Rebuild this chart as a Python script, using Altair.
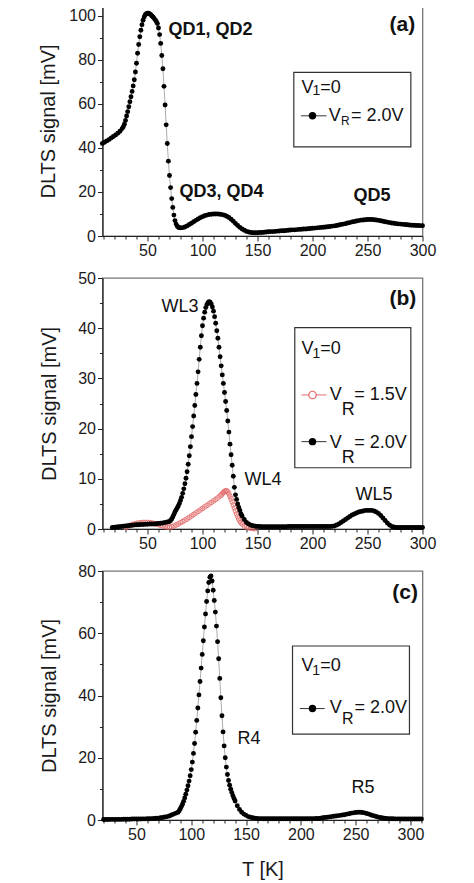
import altair as alt
import pandas as pd

FONT = "Liberation Sans"

# ---------------- Panel (a): V1=0, VR=2.0V ----------------
TA = [9, 11, 13, 15, 17, 19, 21, 23, 25, 27,
      28, 29, 30, 31, 32, 33, 34, 35, 36, 37,
      38, 39, 40, 41, 42, 43, 44, 45, 46, 47,
      48, 49, 50, 51, 52, 53, 54, 55, 56, 57,
      58, 59, 60, 61, 62, 63, 64, 65, 66, 67,
      68, 69, 70, 71, 72, 73, 74, 75, 76, 77,
      78, 79, 80, 82, 84, 86, 88, 90, 92, 94,
      96, 98, 100, 102, 104, 106, 108, 110, 112, 114,
      116, 118, 120, 122, 124, 126, 128, 130, 132, 134,
      136, 138, 140, 142, 144, 146, 148, 150, 152, 154,
      156, 158, 160, 162, 164, 166, 168, 170, 172, 174,
      176, 178, 180, 182, 184, 186, 188, 190, 192, 194,
      196, 198, 200, 202, 204, 206, 208, 210, 212, 214,
      216, 218, 220, 222, 224, 226, 228, 230, 232, 234,
      236, 238, 240, 242, 244, 246, 248, 250, 252, 254,
      256, 258, 260, 262, 264, 266, 268, 270, 272, 274,
      276, 278, 280, 282, 284, 286, 288, 290, 292, 294,
      296, 298, 300]
VA = [42.0, 42.6, 43.2, 43.8, 44.5, 45.2, 45.9, 46.7, 47.6, 48.8,
      49.6, 50.8, 52.5, 54.5, 56.5, 58.7, 61.0, 63.3, 65.7, 68.2,
      71.0, 74.5, 78.5, 83.0, 87.0, 90.5, 93.5, 96.0, 98.0, 99.5,
      100.5, 101.0, 101.2, 101.2, 100.9, 100.5, 100.0, 99.5, 98.9, 98.2,
      97.5, 96.5, 94.5, 91.5, 87.5, 82.0, 76.0, 68.0, 59.5, 50.5,
      42.0, 34.0, 27.5, 22.0, 17.0, 13.0, 9.5, 7.0, 5.4, 4.5,
      4.0, 3.8, 3.7, 3.8, 4.1, 4.6, 5.2, 5.8, 6.5, 7.1,
      7.7, 8.3, 8.8, 9.2, 9.5, 9.8, 9.9, 10.0, 10.0, 10.0,
      9.9, 9.7, 9.4, 9.0, 8.4, 7.6, 6.7, 5.7, 4.8, 3.9,
      3.2, 2.6, 2.1, 1.8, 1.6, 1.5, 1.5, 1.5, 1.6, 1.6,
      1.7, 1.8, 1.9, 2.0, 2.0, 2.1, 2.2, 2.3, 2.4, 2.4,
      2.5, 2.6, 2.7, 2.8, 2.8, 2.9, 3.0, 3.1, 3.2, 3.2,
      3.3, 3.4, 3.5, 3.6, 3.7, 3.8, 3.9, 4.0, 4.1, 4.2,
      4.3, 4.5, 4.6, 4.8, 5.0, 5.2, 5.4, 5.6, 5.9, 6.1,
      6.4, 6.6, 6.8, 7.0, 7.2, 7.3, 7.4, 7.5, 7.5, 7.5,
      7.4, 7.3, 7.1, 6.9, 6.7, 6.5, 6.3, 6.1, 5.9, 5.8,
      5.6, 5.5, 5.4, 5.3, 5.2, 5.1, 5.0, 4.9, 4.9, 4.8,
      4.8, 4.7, 4.7]

# ---------------- Panel (b): VR=2.0V (black) ----------------
TB2 = [18, 20, 22, 24, 26, 28, 30, 32, 34, 36,
       38, 40, 42, 44, 46, 48, 50, 52, 54, 56,
       58, 60, 62, 64, 66, 68, 70, 71, 72, 73,
       74, 75, 76, 77, 78, 79, 80, 81, 82, 83,
       84, 85, 86, 87, 88, 89, 90, 91, 92, 93,
       94, 95, 96, 97, 98, 99, 100, 101, 102, 103,
       104, 105, 106, 107, 108, 109, 110, 111, 112, 113,
       114, 115, 116, 117, 118, 119, 120, 121, 122, 123,
       124, 125, 126, 127, 128, 129, 130, 131, 132, 133,
       134, 135, 136, 138, 140, 142, 144, 146, 148, 150,
       152, 154, 156, 158, 160, 162, 164, 166, 168, 170,
       172, 174, 176, 178, 180, 182, 184, 186, 188, 190,
       192, 194, 196, 198, 200, 202, 204, 206, 208, 210,
       212, 214, 216, 218, 220, 222, 224, 226, 228, 230,
       232, 234, 236, 238, 240, 242, 244, 246, 248, 250,
       252, 254, 256, 258, 260, 262, 264, 266, 268, 270,
       272, 274, 276, 278, 280, 282, 284, 286, 288, 290,
       292, 294, 296, 298, 300]
VB2 = [0.3, 0.35, 0.4, 0.45, 0.5, 0.55, 0.6, 0.65, 0.7, 0.75,
       0.8, 0.85, 0.85, 0.9, 0.9, 0.95, 0.95, 1.0, 1.0, 1.0,
       1.05, 1.1, 1.15, 1.2, 1.3, 1.4, 1.5, 1.7, 2.0, 2.4,
       2.9, 3.4, 3.8, 4.2, 4.6, 5.1, 5.7, 6.3, 7.1, 8.0,
       9.0, 10.1, 11.4, 12.9, 14.6, 16.4, 18.4, 20.4, 22.5, 24.6,
       26.8, 29.0, 31.3, 33.8, 36.2, 38.5, 40.5, 42.0, 43.2, 44.1,
       44.7, 45.1, 45.3, 45.2, 44.8, 44.2, 43.4, 42.3, 41.0, 39.5,
       38.0, 36.2, 34.3, 32.5, 30.7, 29.0, 27.2, 25.4, 23.6, 21.5,
       19.3, 16.9, 14.8, 12.7, 10.5, 8.3, 6.8, 5.9, 5.0, 4.3,
       3.7, 3.0, 2.6, 1.9, 1.3, 1.0, 0.75, 0.65, 0.55, 0.5,
       0.5, 0.45, 0.45, 0.45, 0.45, 0.45, 0.45, 0.45, 0.45, 0.45,
       0.45, 0.45, 0.45, 0.5, 0.5, 0.5, 0.5, 0.5, 0.5, 0.5,
       0.5, 0.5, 0.5, 0.5, 0.5, 0.5, 0.5, 0.5, 0.5, 0.5,
       0.5, 0.5, 0.5, 0.55, 0.6, 0.8, 1.0, 1.3, 1.6, 1.9,
       2.2, 2.5, 2.8, 3.0, 3.2, 3.4, 3.5, 3.6, 3.7, 3.7,
       3.7, 3.7, 3.6, 3.4, 3.1, 2.7, 2.2, 1.7, 1.2, 0.8,
       0.5, 0.4, 0.3, 0.3, 0.3, 0.3, 0.3, 0.3, 0.3, 0.3,
       0.3, 0.3, 0.3, 0.3, 0.3]

# ---------------- Panel (b): VR=1.5V (red, open) ----------------
TB1 = [30, 32, 34, 36, 38, 40, 42, 44, 46, 48,
       50, 52, 54, 56, 58, 60, 62, 64, 66, 68,
       70, 72, 74, 76, 78, 80, 82, 84, 86, 88,
       90, 92, 94, 96, 98, 100, 102, 104, 106, 108,
       110, 112, 114, 116, 117, 118, 119, 120, 121, 122,
       123, 124, 125, 126, 127, 128, 129, 130, 131, 132,
       133, 134, 135, 136, 138, 140, 142, 144, 146, 148]
VB1 = [0.3, 0.5, 0.7, 0.9, 1.0, 1.1, 1.2, 1.25, 1.3, 1.3,
       1.3, 1.25, 1.2, 1.1, 1.0, 0.9, 0.75, 0.6, 0.5, 0.4,
       0.4, 0.45, 0.6, 0.8, 1.0, 1.25, 1.5, 1.75, 2.0, 2.3,
       2.6, 2.9, 3.2, 3.5, 3.8, 4.1, 4.4, 4.7, 5.0, 5.3,
       5.6, 5.9, 6.2, 6.6, 6.8, 7.0, 7.3, 7.5, 7.6, 7.6,
       7.4, 7.0, 6.5, 6.0, 5.4, 4.8, 4.2, 3.6, 3.0, 2.5,
       2.0, 1.6, 1.3, 1.0, 0.6, 0.4, 0.25, 0.15, 0.1, 0.05]

# ---------------- Panel (c): V1=0, VR=2.0V ----------------
TC = [20, 22, 24, 26, 28, 30, 32, 34, 36, 38,
      40, 42, 44, 46, 48, 50, 52, 54, 56, 58,
      60, 62, 64, 66, 68, 70, 72, 74, 76, 78,
      80, 82, 84, 86, 88, 89, 90, 91, 92, 93,
      94, 95, 96, 97, 98, 99, 100, 101, 102, 103,
      104, 105, 106, 107, 108, 109, 110, 111, 112, 113,
      114, 115, 116, 117, 118, 119, 120, 121, 122, 123,
      124, 125, 126, 127, 128, 129, 130, 131, 132, 133,
      134, 135, 136, 137, 138, 139, 140, 142, 144, 146,
      148, 150, 152, 154, 156, 158, 160, 162, 164, 166,
      168, 170, 172, 174, 176, 178, 180, 182, 184, 186,
      188, 190, 192, 194, 196, 198, 200, 202, 204, 206,
      208, 210, 212, 214, 216, 218, 220, 222, 224, 226,
      228, 230, 232, 234, 236, 238, 240, 242, 244, 246,
      248, 250, 252, 254, 256, 258, 260, 262, 264, 266,
      268, 270, 272, 274, 276, 278, 280, 282, 284, 286,
      288, 290, 292, 294, 296, 298, 300, 302, 304, 306,
      308, 310]
VC = [0.15, 0.15, 0.15, 0.2, 0.2, 0.2, 0.2, 0.2, 0.2, 0.25,
      0.25, 0.25, 0.25, 0.3, 0.3, 0.3, 0.3, 0.3, 0.35, 0.35,
      0.4, 0.4, 0.45, 0.5, 0.55, 0.6, 0.7, 0.8, 0.95, 1.1,
      1.3, 1.6, 1.9, 2.2, 2.5, 3.0, 3.6, 4.3, 5.1, 6.0,
      7.1, 8.3, 9.6, 11.0, 12.5, 14.2, 16.2, 18.6, 21.4, 24.6,
      28.2, 32.0, 36.0, 40.2, 44.5, 48.8, 53.2, 57.6, 62.0, 66.2,
      70.2, 73.6, 76.3, 78.0, 78.4, 76.8, 73.8, 70.5, 66.8, 62.3,
      57.3, 51.8, 45.5, 39.3, 33.5, 28.3, 23.8, 20.0, 17.0, 14.6,
      12.7, 11.2, 9.9, 8.8, 7.8, 6.9, 6.1, 4.6, 3.4, 2.5,
      1.9, 1.5, 1.1, 0.9, 0.7, 0.6, 0.5, 0.45, 0.45, 0.4,
      0.4, 0.4, 0.4, 0.4, 0.4, 0.4, 0.4, 0.4, 0.4, 0.4,
      0.4, 0.4, 0.4, 0.4, 0.4, 0.4, 0.4, 0.4, 0.4, 0.4,
      0.4, 0.4, 0.45, 0.5, 0.5, 0.6, 0.7, 0.8, 0.9, 1.0,
      1.1, 1.2, 1.3, 1.4, 1.5, 1.6, 1.7, 1.9, 2.0, 2.2,
      2.3, 2.4, 2.5, 2.5, 2.4, 2.3, 2.1, 1.9, 1.6, 1.4,
      1.2, 1.0, 0.8, 0.7, 0.6, 0.5, 0.45, 0.4, 0.4, 0.35,
      0.35, 0.35, 0.3, 0.3, 0.3, 0.3, 0.3, 0.3, 0.3, 0.3,
      0.3, 0.3]

# ---------------- Annotation texts (label, T, signal, font size, bold) ----------------
ANNO_A = [("QD1, QD2", 69.1, 91.1, 18, True), ("QD3, QD4", 79.1, 17.9, 18, True),
          ("QD5", 237.3, 16.0, 18, True), ("(a)", 270.0, 93.2, 21, True),
          ("V", 190.0, 65.1, 18, False), ("1", 200.0, 63.9, 14, False), ("=0", 207.0, 65.1, 18, False),
          ("V", 214.8, 52.4, 18, False), ("R", 226.0, 50.3, 12, False), ("= 2.0V", 235.0, 52.4, 18, False)]
BOX_A = (183.0, 289.4, 40.5, 74.3)
SYM_A = [(189.4, 212.7, 200.0, 54.6, "black")]

ANNO_B = [("WL3", 62.7, 43.3, 18, False), ("WL4", 138.2, 8.7, 18, False),
          ("WL5", 239.1, 5.7, 18, False), ("(b)", 270.0, 44.7, 21, True),
          ("V", 190.0, 34.9, 18, False), ("1", 200.0, 34.1, 14, False), ("=0", 207.0, 34.9, 18, False),
          ("V", 215.7, 25.7, 18, False), ("R", 226.5, 22.7, 18, False), ("= 1.5V", 238.0, 25.7, 18, False),
          ("V", 215.7, 16.1, 18, False), ("R", 226.5, 13.1, 18, False), ("= 2.0V", 238.0, 16.1, 18, False)]
BOX_B = (183.9, 289.4, 12.2, 40.1)
SYM_B = [(190.0, 212.7, 200.0, 26.7, "red"), (190.0, 212.7, 200.0, 17.4, "black")]

ANNO_C = [("R4", 142.2, 24.5, 18, False), ("R5", 246.2, 8.8, 18, False),
          ("(c)", 283.4, 71.0, 21, True),
          ("V", 200.6, 47.9, 18, False), ("1", 210.4, 46.5, 14, False), ("=0", 217.8, 47.9, 18, False),
          ("V", 226.4, 34.5, 18, False), ("R", 237.5, 30.7, 16, False), ("= 2.0V", 249.0, 34.5, 18, False)]
BOX_C = (192.4, 299.1, 27.6, 55.9)
SYM_C = [(199.0, 221.8, 210.6, 35.8, "black")]

RED = "#e46a6a"


def series_layers(T, V, X, Y, kind):
    df = pd.DataFrame({"T": T, "v": V})
    base = alt.Chart(df)
    if kind == "red":
        line = base.mark_line(color="#f2a0a0", strokeWidth=0.7).encode(x=X, y=Y)
        pts = base.mark_point(shape="circle", filled=False, stroke=RED, strokeWidth=1,
                              size=22, opacity=0.85).encode(x=X, y=Y)
    else:
        line = base.mark_line(color="#888888", strokeWidth=0.7).encode(x=X, y=Y)
        pts = base.mark_circle(color="black", size=24, opacity=1).encode(x=X, y=Y)
    return [line, pts]


def panel(series, xdom, xticks, ydom, yticks, ymajor, height, tpad, xtitle, anno, box, syms):
    xaxis_kw = dict(values=xticks, labelExpr="datum.value % 50 === 0 ? datum.label : ''",
                    tickSize={"expr": "datum.value % 50 === 0 ? 5 : 3"},
                    labelOverlap=False, labelFlush=False, labelPadding=1, grid=False,
                    title=xtitle, titlePadding=17)
    X = alt.X("T:Q", scale=alt.Scale(domain=xdom, nice=False, zero=False),
              axis=alt.Axis(**xaxis_kw))
    Y = alt.Y("v:Q", scale=alt.Scale(domain=ydom, nice=False, zero=False),
              axis=alt.Axis(values=yticks,
                            labelExpr="datum.value %% %d === 0 ? datum.label : ''" % ymajor,
                            tickSize={"expr": "datum.value %% %d === 0 ? 5 : 3" % ymajor},
                            labelOverlap=False, labelPadding=2, grid=False,
                            title="DLTS signal [mV]", titlePadding=tpad))
    layers = []
    for T, V, kind in series:
        layers += series_layers(T, V, X, Y, kind)

    bdf = pd.DataFrame({"T": [box[0]], "T2": [box[1]], "v": [box[2]], "v2": [box[3]]})
    layers.append(alt.Chart(bdf).mark_rect(fill="white", stroke="#333333", strokeWidth=1.2)
                  .encode(x=X, x2="T2:Q", y=Y, y2="v2:Q"))

    sdf = pd.DataFrame({"T": [s[0] for s in syms], "T2": [s[1] for s in syms],
                        "Tm": [s[2] for s in syms], "v": [s[3] for s in syms],
                        "kind": [s[4] for s in syms]})
    for kind in ["red", "black"]:
        sub = sdf[sdf["kind"] == kind]
        if len(sub) == 0:
            continue
        col = RED if kind == "red" else "#333333"
        layers.append(alt.Chart(sub).mark_rule(color=col, strokeWidth=1)
                      .encode(x=X, x2="T2:Q", y=Y))
        pdf = sub[["Tm", "v"]].rename(columns={"Tm": "T"})
        if kind == "red":
            layers.append(alt.Chart(pdf).mark_point(shape="circle", filled=False, stroke=RED,
                                                    fill="white", strokeWidth=1.2, size=55, opacity=1)
                          .encode(x=X, y=Y))
        else:
            layers.append(alt.Chart(pdf).mark_circle(color="black", size=55, opacity=1)
                          .encode(x=X, y=Y))

    adf = pd.DataFrame({"label": [a[0] for a in anno], "T": [a[1] for a in anno],
                        "v": [a[2] for a in anno], "fs": [a[3] for a in anno],
                        "bold": [a[4] for a in anno]})
    for bold in [True, False]:
        sub = adf[adf["bold"] == bold]
        layers.append(alt.Chart(sub).mark_text(font=FONT, fontWeight="bold" if bold else "normal",
                                               align="left", baseline="alphabetic", color="#111111")
                      .encode(x=X, y=Y, text="label:N", size=alt.Size("fs:Q", scale=None)))
    return alt.layer(*layers).properties(width=320, height=height)


xt_ab = [10, 20, 30, 40, 50, 60, 70, 80, 90, 100, 110, 120, 130, 140, 150, 160, 170, 180,
         190, 200, 210, 220, 230, 240, 250, 260, 270, 280, 290, 300]
xt_c = [20, 30, 40, 50, 60, 70, 80, 90, 100, 110, 120, 130, 140, 150, 160, 170, 180,
        190, 200, 210, 220, 230, 240, 250, 260, 270, 280, 290, 300, 310]

pa = panel([(TA, VA, "black")], [9.1, 300], xt_ab, [0, 104.5],
           [0, 10, 20, 30, 40, 50, 60, 70, 80, 90, 100], 20, 230, 10, None, ANNO_A, BOX_A, SYM_A)
pb = panel([(TB1, VB1, "red"), (TB2, VB2, "black")], [9.1, 300], xt_ab, [0, 50],
           [0, 5, 10, 15, 20, 25, 30, 35, 40, 45, 50], 10, 251, 18, None, ANNO_B, BOX_B, SYM_B)
pc = panel([(TC, VC, "black")], [19, 311], xt_c, [0, 80],
           [0, 10, 20, 30, 40, 50, 60, 70, 80], 20, 249, 18, "T [K]", ANNO_C, BOX_C, SYM_C)

chart = alt.vconcat(pa, pb, pc, spacing=42, bounds="flush").properties(
    padding={"top": -3, "left": 29.5, "right": 5, "bottom": 2}
).configure_view(stroke="#777777", strokeWidth=1.3).configure_axis(
    labelFont=FONT, titleFont=FONT, labelFontSize=16, titleFontSize=20,
    titleFontWeight="normal", labelColor="#1a1a1a", titleColor="#1a1a1a",
    domainColor="#222222", tickColor="#222222", domainWidth=1.2, tickWidth=1
)

chart.save("out.html", embed_options={"renderer": "svg", "actions": False})
